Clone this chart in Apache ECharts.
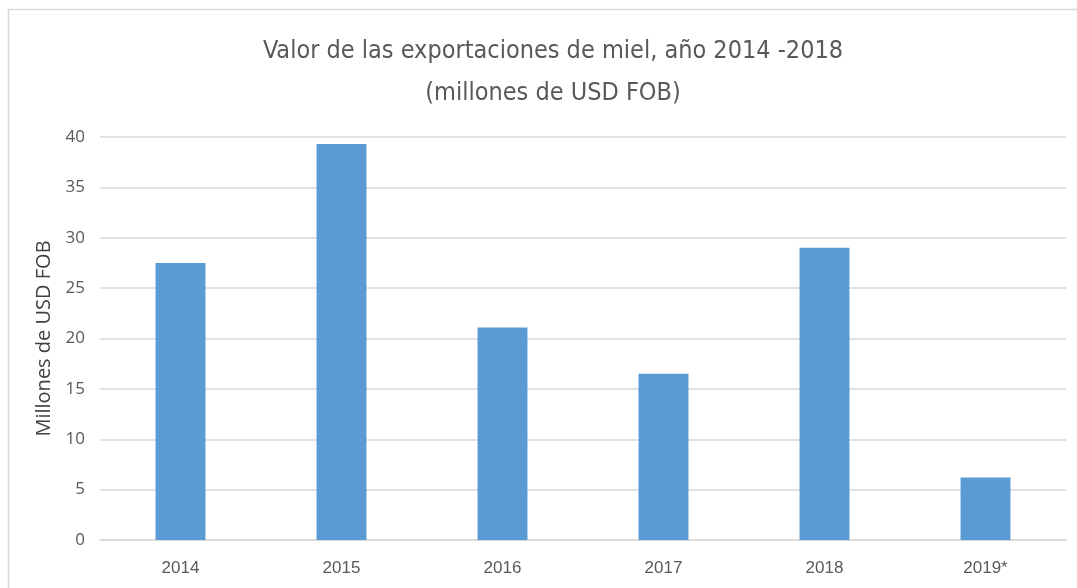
<!DOCTYPE html>
<html>
<head>
<meta charset="utf-8">
<script src="https://cdn.jsdelivr.net/npm/echarts@6/dist/echarts.min.js"></script>
<style>
html, body { margin: 0; padding: 0; background: #fff; }
#main { width: 1077px; height: 588px; }
</style>
</head>
<body>
<div id="main"></div>
<script>
// datos
var anios = ['2014', '2015', '2016', '2017', '2018', '2019*'];
var valores = [27.5, 39.3, 21.1, 16.5, 29.0, 6.2];
var tituloLineas = ['Valor de las exportaciones de miel, año 2014 -2018', '(millones de USD FOB)'];
var nombreEjeY = 'Millones de USD FOB';

var myChart = echarts.init(document.getElementById('main'));
var option = {
    backgroundColor: '#fff',
    title: {
        text: tituloLineas.join('\n'),
        left: 548,
        top: 25,
        textAlign: 'center',
        textStyle: {
            fontFamily: 'Liberation Sans Narrow, DejaVu Sans Condensed, sans-serif',
            fontWeight: 'normal',
            fontSize: 25,
            lineHeight: 42,
            color: '#595959'
        }
    },
    // marco del gráfico (solo arriba e izquierda visibles)
    graphic: [{
        type: 'rect',
        shape: { x: 8.5, y: 9.5, width: 1100, height: 600 },
        style: { fill: 'none', stroke: '#d9d9d9', lineWidth: 1.5 },
        silent: true
    }],
    grid: { left: 100, right: 11, top: 137, bottom: 48 },
    xAxis: {
        type: 'category',
        data: anios,
        axisLine: { lineStyle: { color: '#d9d9d9', width: 1.5 } },
        axisTick: { show: false },
        axisLabel: {
            margin: 20,
            fontFamily: 'Liberation Sans Narrow, sans-serif',
            fontSize: 17,
            color: '#595959'
        }
    },
    yAxis: {
        type: 'value',
        min: 0,
        max: 40,
        interval: 5,
        name: nombreEjeY,
        nameLocation: 'middle',
        nameGap: 46,
        nameTextStyle: {
            fontFamily: 'Open Sans, sans-serif',
            fontSize: 20,
            color: '#404040'
        },
        axisLine: { show: false },
        axisTick: { show: false },
        axisLabel: {
            margin: 15,
            fontFamily: 'Open Sans, sans-serif',
            fontSize: 17,
            color: '#595959'
        },
        splitLine: { lineStyle: { color: '#d9d9d9', width: 1.5 } }
    },
    series: [{
        type: 'bar',
        data: valores,
        barWidth: '31%',
        itemStyle: { color: '#5b9bd5' }
    }]
};
myChart.setOption(option);
</script>
</body>
</html>
